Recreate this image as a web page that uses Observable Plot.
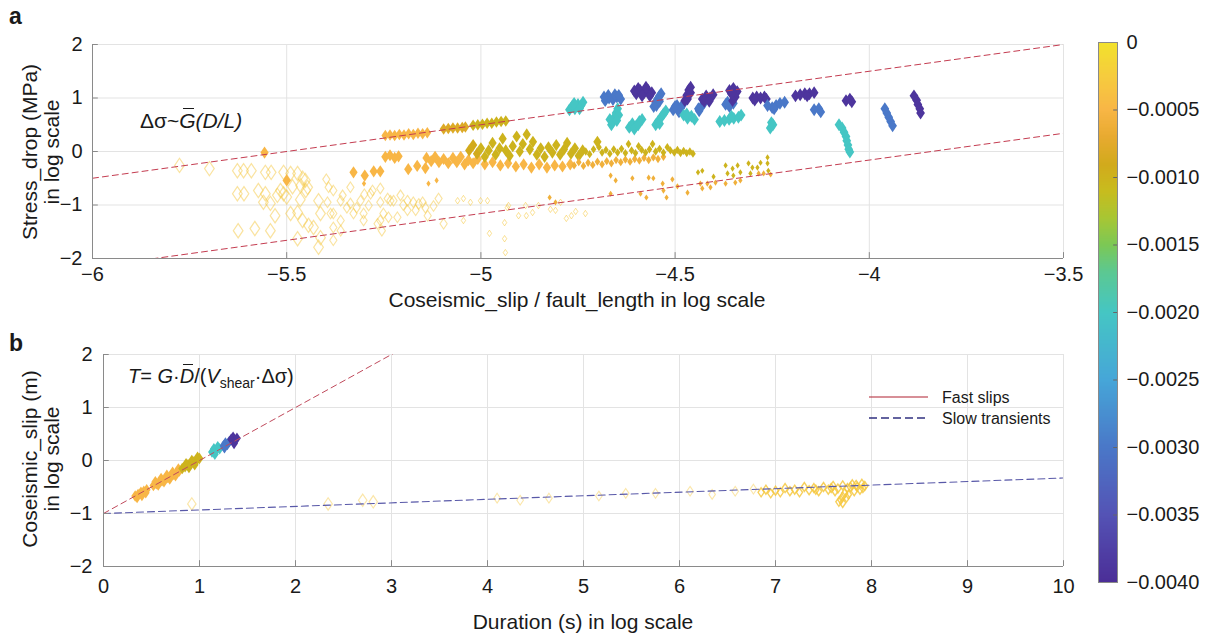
<!DOCTYPE html>
<html>
<head>
<meta charset="utf-8">
<script src="https://cdn.jsdelivr.net/npm/d3@7"></script>
<script src="https://cdn.jsdelivr.net/npm/@observablehq/plot@0.6"></script>
<style>
  body { margin: 0; background: #fff; font-family: "Liberation Sans", Arial, sans-serif; color: #1a1a1a; }
  #root { position: relative; width: 1205px; height: 636px; overflow: hidden; background: #fff; }
  .box { position: absolute; }
  .box svg { display: block; max-width: none !important; }
  .ylab { position: absolute; transform: translate(-50%, -50%) rotate(-90deg); text-align: center; font-size: 21px; line-height: 22px; white-space: nowrap; }
  .xlab { position: absolute; transform: translate(-50%, -50%); font-size: 21px; white-space: nowrap; }
  .panel { position: absolute; font-weight: bold; font-size: 23px; }
  .ann { position: absolute; transform: translateY(-50%); font-size: 21px; white-space: nowrap; }
  .ov { position: relative; }
  .ov::before { content: ""; position: absolute; left: 22%; right: 8%; top: -1px; border-top: 1.3px solid #1a1a1a; }
  .leg { position: absolute; font-size: 16px; white-space: nowrap; }
</style>
</head>
<body>
<div id="root"></div>
<script>
// ---------------- ticks ----------------
const xTicksA = [-6, -5.5, -5, -4.5, -4, -3.5];
const yTicksA = [-2, -1, 0, 1, 2];
const xTicksB = [0, 1, 2, 3, 4, 5, 6, 7, 8, 9, 10];
const yTicksB = [-2, -1, 0, 1, 2];
const cbTicks = [0, -0.0005, -0.001, -0.0015, -0.002, -0.0025, -0.003, -0.0035, -0.004];

// colour map (colour-bar stops)
const cbStops  = [-0.004, -0.0035, -0.003, -0.0025, -0.002, -0.0017, -0.0015, -0.0013, -0.0011, -0.0009, -0.0007, -0.0005, -0.00025, 0];
const cbColors = ["#4b2e97", "#5453b5", "#4a78c8", "#46a6d8", "#45c6c4", "#5cc892", "#7cc856", "#a8c634", "#c8bc1e", "#d2aa1c", "#e8aa30", "#f8b646", "#f6cc3e", "#f2e22c"];

// fit lines (log-log): y = slope*x + intercept
const fitA = [{slope: 1, intercept: 5.5}, {slope: 1, intercept: 3.84}];
const fitB = [{name: "Fast slips", slope: 1, intercept: -1}, {name: "Slow transients", slope: 0.067, intercept: -1}];

// ---------------- panel a data: [x, y, colourValue] ----------------
const slowLargeA = [
  [-5.776,-0.26,-0.0003],[-5.699,-0.32,-0.0003],[-5.627,-0.36,-0.0003],[-5.611,-0.36,-0.0003],[-5.591,-0.36,-0.0003],
  [-5.555,-0.39,-0.0003],[-5.540,-0.39,-0.0003],[-5.508,-0.39,-0.0003],[-5.490,-0.41,-0.0003],[-5.472,-0.41,-0.0003],
  [-5.627,-0.79,-0.0003],[-5.610,-0.79,-0.0003],[-5.573,-0.73,-0.0003],[-5.555,-0.79,-0.0003],[-5.560,-0.95,-0.0003],
  [-5.542,-0.97,-0.0003],[-5.524,-0.82,-0.0003],[-5.516,-0.73,-0.0003],[-5.508,-0.79,-0.0003],[-5.464,-0.64,-0.0003],
  [-5.451,-0.73,-0.0003],[-5.459,-0.50,-0.0003],[-5.625,-1.48,-0.0003],[-5.582,-1.44,-0.0003],[-5.542,-1.48,-0.0003],
  [-5.490,-1.16,-0.0003],[-5.472,-1.14,-0.0003],[-5.459,-1.29,-0.0003],[-5.444,-1.38,-0.0003],[-5.472,-1.63,-0.0003],
  [-5.431,-1.42,-0.0003],[-5.452,-0.54,-0.0003],[-5.446,-0.67,-0.0003],[-5.418,-0.92,-0.0003],[-5.413,-1.16,-0.0003],
  [-5.413,-1.61,-0.0003],[-5.418,-1.79,-0.0003],[-5.500,-0.85,-0.0003],[-5.530,-1.20,-0.0003],[-5.465,-0.90,-0.0003],
  [-5.485,-0.66,-0.0003]
];
const slowMidA = [
  [-5.398,-0.52,-0.0003],[-5.380,-0.73,-0.0003],[-5.356,-0.82,-0.0003],[-5.336,-0.97,-0.0003],[-5.310,-0.92,-0.0003],
  [-5.289,-1.01,-0.0003],[-5.279,-0.73,-0.0003],[-5.259,-0.69,-0.0003],[-5.259,-0.95,-0.0003],[-5.240,-0.88,-0.0003],
  [-5.225,-0.92,-0.0003],[-5.207,-0.82,-0.0003],[-5.189,-0.92,-0.0003],[-5.174,-0.95,-0.0003],[-5.150,-0.95,-0.0003],
  [-5.143,-1.05,-0.0003],[-5.387,-1.16,-0.0003],[-5.361,-1.29,-0.0003],[-5.328,-1.16,-0.0003],[-5.302,-1.29,-0.0003],
  [-5.266,-1.35,-0.0003],[-5.251,-1.16,-0.0003],[-5.380,-1.42,-0.0003],[-5.380,-1.66,-0.0003],[-5.215,-1.23,-0.0003],
  [-5.189,-1.10,-0.0003],[-5.168,-1.10,-0.0003],[-5.137,-1.20,-0.0003],[-5.109,-0.88,-0.0003],[-5.096,-1.35,-0.0003],
  [-5.392,-0.67,-0.0003],[-5.361,-0.92,-0.0003],[-5.336,-0.67,-0.0003],[-5.284,-0.79,-0.0003],[-5.233,-0.92,-0.0003],
  [-5.380,-1.16,-0.0003],[-5.302,-1.16,-0.0003],[-5.259,-1.29,-0.0003],[-5.238,-1.23,-0.0003],[-5.361,-1.48,-0.0003],
  [-5.255,-1.48,-0.0003],[-5.320,-1.05,-0.0003],[-5.200,-1.00,-0.0003],[-5.160,-0.98,-0.0003],[-5.122,-1.02,-0.0003],
  [-5.300,-0.80,-0.0003],[-5.345,-1.05,-0.0003],[-5.395,-0.95,-0.0003]
];
const slowSmallA = [
  [-5.060,-0.92,-0.0003],[-5.045,-0.88,-0.0003],[-5.027,-0.95,-0.0003],[-5.001,-0.92,-0.0003],[-4.983,-0.92,-0.0003],
  [-5.045,-1.29,-0.0003],[-4.978,-1.53,-0.0003],[-4.939,-1.63,-0.0003],[-4.937,-1.89,-0.0003],[-4.929,-1.01,-0.0003],
  [-4.932,-1.05,-0.0003],[-4.903,-1.20,-0.0003],[-4.885,-1.01,-0.0003],[-4.883,-1.20,-0.0003],[-4.867,-1.14,-0.0003],
  [-4.852,-1.01,-0.0003],[-4.821,-1.08,-0.0003],[-4.808,-1.10,-0.0003],[-4.795,-0.95,-0.0003],[-4.780,-1.25,-0.0003],
  [-4.767,-1.20,-0.0003],[-4.756,-1.12,-0.0003],[-4.731,-1.16,-0.0003],[-4.939,-1.33,-0.0003]
];
// warm clusters along the upper fit line
const fastUpperWarmA = [
  [-5.246,0.30,-0.0005],[-5.234,0.31,-0.0005],[-5.222,0.30,-0.0005],[-5.210,0.32,-0.0005],[-5.198,0.31,-0.0005],
  [-5.186,0.33,-0.0005],[-5.174,0.32,-0.0005],[-5.162,0.34,-0.0005],[-5.150,0.33,-0.0005],[-5.138,0.35,-0.0005],
  [-5.096,0.42,-0.0008],[-5.084,0.43,-0.0008],[-5.072,0.44,-0.0008],[-5.060,0.44,-0.0008],[-5.048,0.45,-0.0008],[-5.040,0.46,-0.0008],
  [-5.020,0.49,-0.001],[-5.008,0.50,-0.001],[-4.996,0.51,-0.001],[-4.984,0.53,-0.001],[-4.972,0.53,-0.001],
  [-4.960,0.55,-0.001],[-4.948,0.56,-0.001],[-4.936,0.57,-0.001]
];
// cyan / blue / purple blobs near the upper fit line
const fastUpperColdA = [
  [-4.772,0.78,-0.002],[-4.765,0.84,-0.002],[-4.758,0.80,-0.002],[-4.750,0.88,-0.002],[-4.742,0.86,-0.002],[-4.737,0.92,-0.002],[-4.760,0.90,-0.002],[-4.746,0.80,-0.002],
  [-4.680,0.95,-0.003],[-4.670,1.00,-0.003],[-4.660,0.97,-0.003],[-4.650,1.02,-0.003],[-4.640,0.98,-0.003],[-4.672,1.05,-0.003],[-4.655,1.06,-0.003],[-4.645,1.05,-0.003],[-4.683,1.02,-0.003],
  [-4.648,0.80,-0.002],[-4.652,0.72,-0.002],[-4.656,0.64,-0.002],[-4.660,0.56,-0.002],[-4.664,0.50,-0.002],[-4.645,0.68,-0.002],[-4.668,0.60,-0.002],[-4.650,0.58,-0.002],
  [-4.600,1.08,-0.0039],[-4.590,1.14,-0.0039],[-4.580,1.10,-0.0039],[-4.570,1.15,-0.0039],[-4.560,1.10,-0.0039],[-4.585,1.04,-0.0039],[-4.595,1.18,-0.0039],[-4.575,1.20,-0.0039],[-4.605,1.13,-0.0039],[-4.565,1.04,-0.0039],
  [-4.618,0.45,-0.002],[-4.610,0.52,-0.002],[-4.600,0.48,-0.002],[-4.592,0.56,-0.002],[-4.585,0.60,-0.002],[-4.605,0.42,-0.002],[-4.595,0.50,-0.002],
  [-4.555,0.84,-0.003],[-4.550,0.92,-0.003],[-4.545,0.98,-0.003],[-4.540,1.04,-0.003],[-4.536,1.08,-0.003],[-4.548,0.86,-0.003],[-4.540,0.94,-0.003],
  [-4.550,0.50,-0.002],[-4.543,0.57,-0.002],[-4.536,0.64,-0.002],[-4.530,0.70,-0.002],[-4.524,0.76,-0.002],[-4.540,0.52,-0.002],
  [-4.505,0.78,-0.003],[-4.495,0.86,-0.003],[-4.485,0.82,-0.003],[-4.478,0.90,-0.003],[-4.490,0.74,-0.003],[-4.500,0.84,-0.003],
  [-4.475,0.95,-0.0039],[-4.470,1.05,-0.0039],[-4.465,1.15,-0.0039],[-4.460,1.20,-0.0039],[-4.468,0.98,-0.0039],[-4.460,1.10,-0.0039],
  [-4.478,0.68,-0.002],[-4.468,0.62,-0.002],[-4.458,0.66,-0.002],[-4.450,0.60,-0.002],[-4.470,0.70,-0.002],
  [-4.438,0.76,-0.003],[-4.432,0.84,-0.003],[-4.426,0.90,-0.003],[-4.440,0.80,-0.003],
  [-4.430,0.98,-0.0039],[-4.420,1.04,-0.0039],[-4.410,1.00,-0.0039],[-4.402,1.06,-0.0039],[-4.425,0.94,-0.0039],[-4.412,0.94,-0.0039],
  [-4.370,0.88,-0.003],[-4.360,0.84,-0.003],[-4.350,0.90,-0.003],[-4.365,0.92,-0.003],
  [-4.360,1.14,-0.0039],[-4.350,1.18,-0.0039],[-4.340,1.12,-0.0039],[-4.345,1.02,-0.0039],[-4.352,0.95,-0.0039],[-4.355,1.08,-0.0039],
  [-4.385,0.56,-0.002],[-4.373,0.58,-0.002],[-4.361,0.60,-0.002],[-4.349,0.62,-0.002],[-4.337,0.64,-0.002],[-4.330,0.68,-0.002],[-4.355,0.66,-0.002],
  [-4.300,1.00,-0.0039],[-4.290,1.02,-0.0039],[-4.280,1.00,-0.0039],[-4.270,1.02,-0.0039],[-4.265,0.98,-0.0039],[-4.295,0.96,-0.0039],
  [-4.262,0.86,-0.003],[-4.250,0.82,-0.003],[-4.240,0.86,-0.003],[-4.230,0.90,-0.003],[-4.218,0.92,-0.003],[-4.245,0.80,-0.003],
  [-4.190,1.04,-0.0039],[-4.178,1.06,-0.0039],[-4.166,1.08,-0.0039],[-4.154,1.08,-0.0039],[-4.142,1.10,-0.0039],[-4.160,1.04,-0.0039],
  [-4.255,0.44,-0.002],[-4.248,0.50,-0.002],[-4.252,0.54,-0.002],
  [-4.142,0.78,-0.003],[-4.130,0.80,-0.003],[-4.125,0.74,-0.003],
  [-4.060,0.95,-0.0039],[-4.050,0.98,-0.0039],[-4.045,0.93,-0.0039],
  [-4.078,0.50,-0.002],[-4.070,0.44,-0.002],[-4.065,0.36,-0.002],[-4.060,0.28,-0.002],[-4.058,0.20,-0.002],[-4.055,0.12,-0.002],[-4.053,0.04,-0.002],[-4.050,-0.01,-0.002],
  [-3.960,0.80,-0.003],[-3.955,0.72,-0.003],[-3.950,0.64,-0.003],[-3.945,0.56,-0.003],[-3.940,0.48,-0.003],
  [-3.885,1.04,-0.0039],[-3.878,0.96,-0.0039],[-3.875,0.88,-0.0039],[-3.870,0.80,-0.0039],[-3.868,0.72,-0.0039]
];
const fastMidA = [
  [-5.557,-0.02,-0.0005],[-5.500,-0.54,-0.0005],[-5.328,-0.39,-0.0005],[-5.299,-0.45,-0.0005],[-5.276,-0.37,-0.0005],
  [-5.259,-0.37,-0.0005],[-5.246,-0.10,-0.0005],[-5.234,-0.07,-0.0005],[-5.222,-0.12,-0.0005],[-5.212,-0.09,-0.0005],
  [-5.187,-0.33,-0.0005],[-5.164,-0.27,-0.0005],[-5.143,-0.31,-0.0005],
  [-5.140,-0.12,-0.0005],[-5.128,-0.18,-0.0005],[-5.118,-0.10,-0.0005],[-5.108,-0.20,-0.0005],[-5.096,-0.14,-0.0005],
  [-5.084,-0.22,-0.0005],[-5.072,-0.12,-0.0005],[-5.062,-0.20,-0.0005],[-5.052,-0.10,-0.0005],[-5.042,-0.24,-0.0005],
  [-5.032,-0.16,-0.0005],[-5.020,-0.22,-0.0005],[-5.008,-0.14,-0.0005],[-4.990,-0.24,-0.0005],[-4.970,-0.20,-0.0005],
  [-4.950,-0.26,-0.0005],[-4.930,-0.22,-0.0005],[-4.910,-0.28,-0.0005],[-4.890,-0.24,-0.0005],[-4.870,-0.30,-0.0005],
  [-4.850,-0.24,-0.0005],[-4.830,-0.30,-0.0005],[-4.810,-0.26,-0.0005],[-4.790,-0.28,-0.0005],[-4.770,-0.24,-0.0005],
  [-5.030,0.02,-0.0009],[-5.020,0.12,-0.0009],[-5.010,-0.04,-0.0009],[-5.000,0.06,-0.001],[-4.990,-0.10,-0.001],
  [-4.980,0.02,-0.001],[-4.970,0.16,-0.001],[-4.962,-0.06,-0.001],[-4.952,0.06,-0.001],[-4.944,0.24,-0.001],
  [-4.936,0.02,-0.001],[-4.926,-0.08,-0.001],[-4.918,0.10,-0.001],[-4.908,0.28,-0.001],[-4.900,0.00,-0.001],
  [-4.892,0.14,-0.001],[-4.882,0.32,-0.001],[-4.874,0.04,-0.001],[-4.866,0.18,-0.001],[-4.856,-0.06,-0.001],
  [-4.846,0.06,-0.001],[-4.836,-0.10,-0.001],[-4.826,0.08,-0.001],[-4.816,-0.02,-0.001],[-4.806,0.12,-0.001],
  [-4.796,-0.06,-0.001],[-4.786,0.04,-0.001],[-4.778,0.16,-0.001],[-4.768,-0.04,-0.001],[-4.758,0.06,-0.001],
  [-4.748,-0.08,-0.001],[-4.738,0.02,-0.001],[-4.700,0.18,-0.001]
];
const fastMidSmallA = [
  [-4.760,-0.26,-0.0006],[-4.748,-0.20,-0.0006],[-4.736,-0.27,-0.0006],[-4.724,-0.21,-0.0006],[-4.712,-0.25,-0.0006],
  [-4.700,-0.19,-0.0006],[-4.688,-0.24,-0.0006],[-4.676,-0.18,-0.0006],[-4.664,-0.22,-0.0006],[-4.652,-0.16,-0.0006],
  [-4.640,-0.20,-0.0006],[-4.628,-0.15,-0.0006],[-4.616,-0.19,-0.0006],[-4.604,-0.14,-0.0006],[-4.592,-0.17,-0.0006],
  [-4.580,-0.12,-0.0006],[-4.568,-0.16,-0.0006],[-4.556,-0.11,-0.0006],[-4.544,-0.14,-0.0006],[-4.530,-0.10,-0.0006],
  [-4.730,0.00,-0.001],[-4.720,-0.05,-0.001],[-4.710,0.04,-0.001],[-4.696,0.08,-0.001],[-4.688,-0.02,-0.001],
  [-4.678,0.03,-0.001],[-4.668,-0.04,-0.001],[-4.658,0.04,-0.001],[-4.648,-0.02,-0.001],[-4.638,0.05,-0.001],
  [-4.628,-0.03,-0.001],[-4.620,0.14,-0.001],[-4.612,0.02,-0.001],[-4.602,-0.03,-0.001],[-4.594,0.10,-0.001],
  [-4.586,0.03,-0.001],[-4.576,-0.02,-0.001],[-4.566,0.04,-0.001],[-4.558,0.14,-0.001],[-4.550,0.00,-0.001],
  [-4.540,0.05,-0.001],[-4.530,-0.02,-0.001],[-4.520,0.08,-0.001],[-4.512,0.02,-0.001],[-4.502,-0.02,-0.001],
  [-4.494,0.03,-0.001],[-4.486,-0.03,-0.001],[-4.478,0.01,-0.001],[-4.470,-0.03,-0.001],[-4.462,0.00,-0.001],[-4.454,-0.04,-0.001]
];
const fastLowerA = [
  [-5.301,-0.60,-0.0005],[-5.135,-0.60,-0.0005],[-5.114,-0.54,-0.0005],
  [-4.823,-0.86,-0.0006],[-4.808,-0.95,-0.0006],[-4.666,-0.45,-0.0006],[-4.653,-0.54,-0.0006],[-4.610,-0.50,-0.0006],
  [-4.568,-0.49,-0.0006],[-4.556,-0.50,-0.0006],[-4.532,-0.60,-0.0006],[-4.507,-0.52,-0.0006],[-4.666,-0.79,-0.0006],
  [-4.589,-0.79,-0.0006],[-4.574,-0.86,-0.0006],[-4.530,-0.73,-0.0006],[-4.522,-0.86,-0.0006],[-4.494,-0.65,-0.0006],
  [-4.468,-0.77,-0.0006],[-4.441,-0.39,-0.001],[-4.430,-0.36,-0.001],[-4.435,-0.60,-0.0006],[-4.430,-0.69,-0.0006],
  [-4.417,-0.60,-0.0006],[-4.409,-0.67,-0.0006],[-4.401,-0.47,-0.001],[-4.396,-0.58,-0.0006],[-4.370,-0.26,-0.001],
  [-4.370,-0.60,-0.0006],[-4.365,-0.41,-0.001],[-4.352,-0.32,-0.001],[-4.350,-0.45,-0.001],[-4.345,-0.58,-0.0006],
  [-4.339,-0.26,-0.001],[-4.332,-0.39,-0.001],[-4.332,-0.54,-0.0006],[-4.311,-0.22,-0.001],[-4.306,-0.41,-0.001],
  [-4.301,-0.30,-0.001],[-4.288,-0.30,-0.001],[-4.285,-0.41,-0.0006],[-4.280,-0.21,-0.001],[-4.272,-0.41,-0.0006],
  [-4.262,-0.22,-0.001],[-4.262,-0.11,-0.001],[-4.260,-0.36,-0.001],[-4.254,-0.43,-0.0006]
];

// ---------------- panel b data: [x, y, colourValue] ----------------
const fastB = [
  [0.33,-0.67,-0.0005],[0.36,-0.64,-0.0005],[0.39,-0.60,-0.0005],[0.42,-0.58,-0.0005],[0.45,-0.55,-0.0005],
  [0.35,-0.70,-0.0005],[0.40,-0.66,-0.0005],[0.44,-0.61,-0.0005],
  [0.52,-0.47,-0.0005],[0.55,-0.44,-0.0005],[0.58,-0.41,-0.0005],[0.61,-0.38,-0.0005],[0.64,-0.35,-0.0005],
  [0.67,-0.32,-0.0005],[0.70,-0.29,-0.0005],[0.73,-0.26,-0.0005],[0.76,-0.23,-0.0005],[0.79,-0.20,-0.0005],
  [0.54,-0.40,-0.0005],[0.60,-0.34,-0.0005],[0.66,-0.28,-0.0005],[0.72,-0.22,-0.0005],[0.78,-0.16,-0.0005],
  [0.57,-0.46,-0.0005],[0.63,-0.40,-0.0005],[0.69,-0.35,-0.0005],[0.75,-0.29,-0.0005],
  [0.82,-0.15,-0.001],[0.85,-0.12,-0.001],[0.88,-0.08,-0.001],[0.91,-0.06,-0.001],[0.94,-0.03,-0.001],
  [0.97,0.00,-0.001],[1.00,0.04,-0.001],[0.86,-0.06,-0.001],[0.92,0.00,-0.001],[0.98,0.06,-0.001],[0.89,-0.13,-0.001],[0.95,-0.08,-0.001],
  [1.13,0.16,-0.002],[1.15,0.22,-0.002],[1.17,0.18,-0.002],[1.19,0.26,-0.002],[1.21,0.22,-0.002],[1.16,0.12,-0.002],
  [1.25,0.28,-0.003],[1.27,0.33,-0.003],[1.29,0.30,-0.003],[1.31,0.36,-0.003],[1.26,0.24,-0.003],
  [1.33,0.40,-0.0039],[1.35,0.44,-0.0039],[1.37,0.38,-0.0039],[1.39,0.42,-0.0039],[1.36,0.32,-0.0039]
];
const slowLargeB = [[0.92,-0.82,-0.0003],[2.34,-0.82,-0.0003],[2.70,-0.75,-0.0003],[2.81,-0.78,-0.0003]];
const slowMidB = [
  [4.10,-0.71,-0.0003],[4.34,-0.75,-0.0003],[4.64,-0.71,-0.0003],[5.16,-0.67,-0.0003],[5.44,-0.62,-0.0003],
  [5.75,-0.62,-0.0003],[6.11,-0.58,-0.0003],[6.34,-0.64,-0.0003],[6.58,-0.58,-0.0003],[6.77,-0.54,-0.0003]
];
const slowDenseB = [
  [6.85,-0.60,-0.0003],[6.90,-0.55,-0.0003],[6.95,-0.62,-0.0003],[7.00,-0.57,-0.0003],[7.05,-0.60,-0.0003],
  [7.10,-0.52,-0.0003],[7.15,-0.58,-0.0003],[7.20,-0.55,-0.0003],[7.25,-0.60,-0.0003],[7.30,-0.50,-0.0003],
  [7.35,-0.56,-0.0003],[7.40,-0.52,-0.0003],[7.45,-0.58,-0.0003],[7.50,-0.50,-0.0003],[7.55,-0.55,-0.0003],
  [7.60,-0.48,-0.0003],[7.65,-0.53,-0.0003],[7.70,-0.47,-0.0003],[7.75,-0.52,-0.0003],[7.80,-0.45,-0.0003],
  [7.85,-0.50,-0.0003],[7.90,-0.44,-0.0003],[7.93,-0.48,-0.0003],[7.88,-0.55,-0.0003],[7.82,-0.58,-0.0003],
  [7.72,-0.62,-0.0003],[7.70,-0.68,-0.0003],[7.68,-0.74,-0.0003],[7.70,-0.80,-0.0003],[7.74,-0.70,-0.0003],
  [7.76,-0.64,-0.0003],[7.66,-0.78,-0.0003],[7.58,-0.52,-0.0003],[7.62,-0.58,-0.0003],[7.42,-0.55,-0.0003],
  [7.84,-0.46,-0.0003],[7.91,-0.52,-0.0003],[7.78,-0.50,-0.0003]
];

// ---------------- helpers ----------------
const FONT = '"Liberation Sans", Arial, sans-serif';
const X = d => d[0], Y = d => d[1], C = d => d[2];
const fmtNum = d => (d < 0 ? "\u2212" : "") + Math.abs(d);
const fmtCb = d => d === 0 ? "0" : "\u2212" + Math.abs(d).toFixed(4);
const colorScale = {type: "linear", domain: cbStops, range: cbColors, interpolate: "rgb"};
const diamond = {
  draw(ctx, size) {
    const r = Math.sqrt(size / Math.PI);
    const h = r * 1.15, w = r * 0.78;
    ctx.moveTo(0, -h); ctx.lineTo(w, 0); ctx.lineTo(0, h); ctx.lineTo(-w, 0); ctx.closePath();
  }
};
const fitLine = (f, dom) => dom.map(x => [x, f.slope * x + f.intercept]);
const domA = [xTicksA[0], xTicksA[xTicksA.length - 1]];
const domB = [xTicksB[0], xTicksB[xTicksB.length - 1]];
const style = {fontFamily: FONT, fontSize: "20px", color: "#1a1a1a", background: "transparent", overflow: "visible"};
const gridStyle = {stroke: "#e3e3e3", strokeOpacity: 1, strokeWidth: 1};
const axisColor = "#8a8a8a";

// ---------------- panel a ----------------
const plotA = Plot.plot({
  width: 1080, height: 320,
  marginLeft: 92, marginRight: 17, marginTop: 44, marginBottom: 62,
  x: {domain: domA},
  y: {domain: [yTicksA[0], yTicksA[yTicksA.length - 1]]},
  color: colorScale,
  style,
  marks: [
    Plot.gridX(xTicksA, gridStyle),
    Plot.gridY(yTicksA, gridStyle),
    Plot.dot(slowLargeA, {x: X, y: Y, stroke: C, r: 6.2, symbol: diamond, strokeOpacity: 0.5, strokeWidth: 1.2}),
    Plot.dot(slowMidA, {x: X, y: Y, stroke: C, r: 4.6, symbol: diamond, strokeOpacity: 0.5, strokeWidth: 1.1}),
    Plot.dot(slowSmallA, {x: X, y: Y, stroke: C, r: 2.8, symbol: diamond, strokeOpacity: 0.55, strokeWidth: 1}),
    Plot.dot(fastLowerA, {x: X, y: Y, fill: C, r: 2.7, symbol: diamond}),
    Plot.dot(fastMidA, {x: X, y: Y, fill: C, r: 5.3, symbol: diamond}),
    Plot.dot(fastMidSmallA, {x: X, y: Y, fill: C, r: 3.6, symbol: diamond}),
    Plot.dot(fastUpperWarmA, {x: X, y: Y, fill: C, r: 5, symbol: diamond}),
    Plot.dot(fastUpperColdA, {x: X, y: Y, fill: C, r: 5.6, symbol: diamond}),
    ...fitA.map(f => Plot.line(fitLine(f, domA), {x: X, y: Y, stroke: "#c43c50", strokeWidth: 1, strokeDasharray: "6,4", clip: true})),
    Plot.ruleX(xTicksA, {x: d => d, y1: yTicksA[0], y2: yTicksA[0] + 0.11, stroke: axisColor}),
    Plot.ruleY(yTicksA, {y: d => d, x1: domA[0], x2: domA[0] + 0.015, stroke: axisColor}),
    Plot.ruleX([domA[0]], {stroke: axisColor}),
    Plot.ruleY([yTicksA[0]], {stroke: axisColor}),
    Plot.axisX(xTicksA, {tickSize: 0, tickPadding: 8, tickFormat: fmtNum, label: null, fontSize: 20}),
    Plot.axisY(yTicksA, {tickSize: 0, tickPadding: 10, tickFormat: fmtNum, label: null, fontSize: 20})
  ]
});

// ---------------- panel b ----------------
const plotB = Plot.plot({
  width: 1080, height: 306,
  marginLeft: 103, marginRight: 17, marginTop: 24, marginBottom: 70,
  x: {domain: domB},
  y: {domain: [yTicksB[0], yTicksB[yTicksB.length - 1]]},
  color: colorScale,
  style,
  marks: [
    Plot.gridX(xTicksB, gridStyle),
    Plot.gridY(yTicksB, gridStyle),
    Plot.dot(slowLargeB, {x: X, y: Y, stroke: C, r: 5.4, symbol: diamond, strokeOpacity: 0.45, strokeWidth: 1.2}),
    Plot.dot(slowMidB, {x: X, y: Y, stroke: C, r: 4.2, symbol: diamond, strokeOpacity: 0.45, strokeWidth: 1.1}),
    Plot.dot(slowDenseB, {x: X, y: Y, stroke: C, r: 3.9, symbol: diamond, strokeOpacity: 0.85, strokeWidth: 1.4}),
    Plot.dot(fastB, {x: X, y: Y, fill: C, r: 5, symbol: diamond}),
    Plot.line(fitLine(fitB[0], domB), {x: X, y: Y, stroke: "#c04a5c", strokeWidth: 1, strokeDasharray: "6,4", clip: true}),
    Plot.line(fitLine(fitB[1], domB), {x: X, y: Y, stroke: "#5858a8", strokeWidth: 1.1, strokeDasharray: "7,4", clip: true}),
    Plot.ruleX(xTicksB, {x: d => d, y1: yTicksB[0], y2: yTicksB[0] + 0.11, stroke: axisColor}),
    Plot.ruleY(yTicksB, {y: d => d, x1: domB[0], x2: domB[0] + 0.06, stroke: axisColor}),
    Plot.ruleX([domB[0]], {stroke: axisColor}),
    Plot.ruleY([yTicksB[0]], {stroke: axisColor}),
    Plot.axisX(xTicksB, {tickSize: 0, tickPadding: 12, tickFormat: fmtNum, label: null, fontSize: 20}),
    Plot.axisY(yTicksB, {tickSize: 0, tickPadding: 11, tickFormat: fmtNum, label: null, fontSize: 20})
  ]
});

// ---------------- colour bar ----------------
const plotCb = Plot.plot({
  width: 108, height: 600,
  marginLeft: 1, marginRight: 88, marginTop: 42, marginBottom: 18,
  x: {domain: [0, 1], axis: null},
  y: {domain: [cbTicks[cbTicks.length - 1], cbTicks[0]]},
  color: colorScale,
  style,
  marks: [
    Plot.raster({fill: (x, y) => y, x1: 0, x2: 1, y1: cbTicks[cbTicks.length - 1], y2: cbTicks[0], width: 2, height: 400, imageRendering: "auto"}),
    Plot.ruleY(cbTicks, {y: d => d, x1: 0.8, x2: 1, stroke: "#666"}),
    Plot.frame({stroke: "#8a8a8a"}),
    Plot.axisY(cbTicks, {anchor: "right", tickSize: 0, tickPadding: 9, tickFormat: fmtCb, label: null, fontSize: 20})
  ]
});

// ---------------- assemble ----------------
const root = document.getElementById("root");
function place(node, left, top) {
  const d = document.createElement("div");
  d.className = "box";
  d.style.left = left + "px"; d.style.top = top + "px";
  d.appendChild(node); root.appendChild(d);
}
place(plotA, 0, 0);
place(plotB, 0, 330);
place(plotCb, 1097, 0);

root.insertAdjacentHTML("beforeend", `
  <div class="panel" style="left:9px; top:3px;">a</div>
  <div class="panel" style="left:9px; top:330px;">b</div>
  <div class="ylab" style="left:41px; top:152px;">Stress_drop (MPa)<br>in log scale</div>
  <div class="ylab" style="left:41px; top:459px;">Coseismic_slip (m)<br>in log scale</div>
  <div class="xlab" style="left:577px; top:300px;">Coseismic_slip / fault_length in log scale</div>
  <div class="xlab" style="left:583px; top:622px;">Duration (s) in log scale</div>
  <div class="ann" style="left:140px; top:121px;">&Delta;&sigma;~<i><span class="ov">G</span>(D/L)</i></div>
  <div class="ann" style="left:128px; top:378px; font-size:20px;"><i>T</i>= <i>G</i>&middot;<i><span class="ov">D</span></i>/(<i>V</i><sub style="font-size:14px;">shear</sub>&middot;&Delta;&sigma;)</div>
  <svg class="box" style="left:869px; top:390px;" width="62" height="36">
    <line x1="0" y1="7" x2="59" y2="7" stroke="#b02030" stroke-width="1.2"/>
    <line x1="0" y1="28" x2="59" y2="28" stroke="#303080" stroke-width="1.4" stroke-dasharray="8,4"/>
  </svg>
  <div class="leg" style="left:942px; top:389px;">${fitB[0].name}</div>
  <div class="leg" style="left:942px; top:410px;">${fitB[1].name}</div>
`);
</script>
</body>
</html>
